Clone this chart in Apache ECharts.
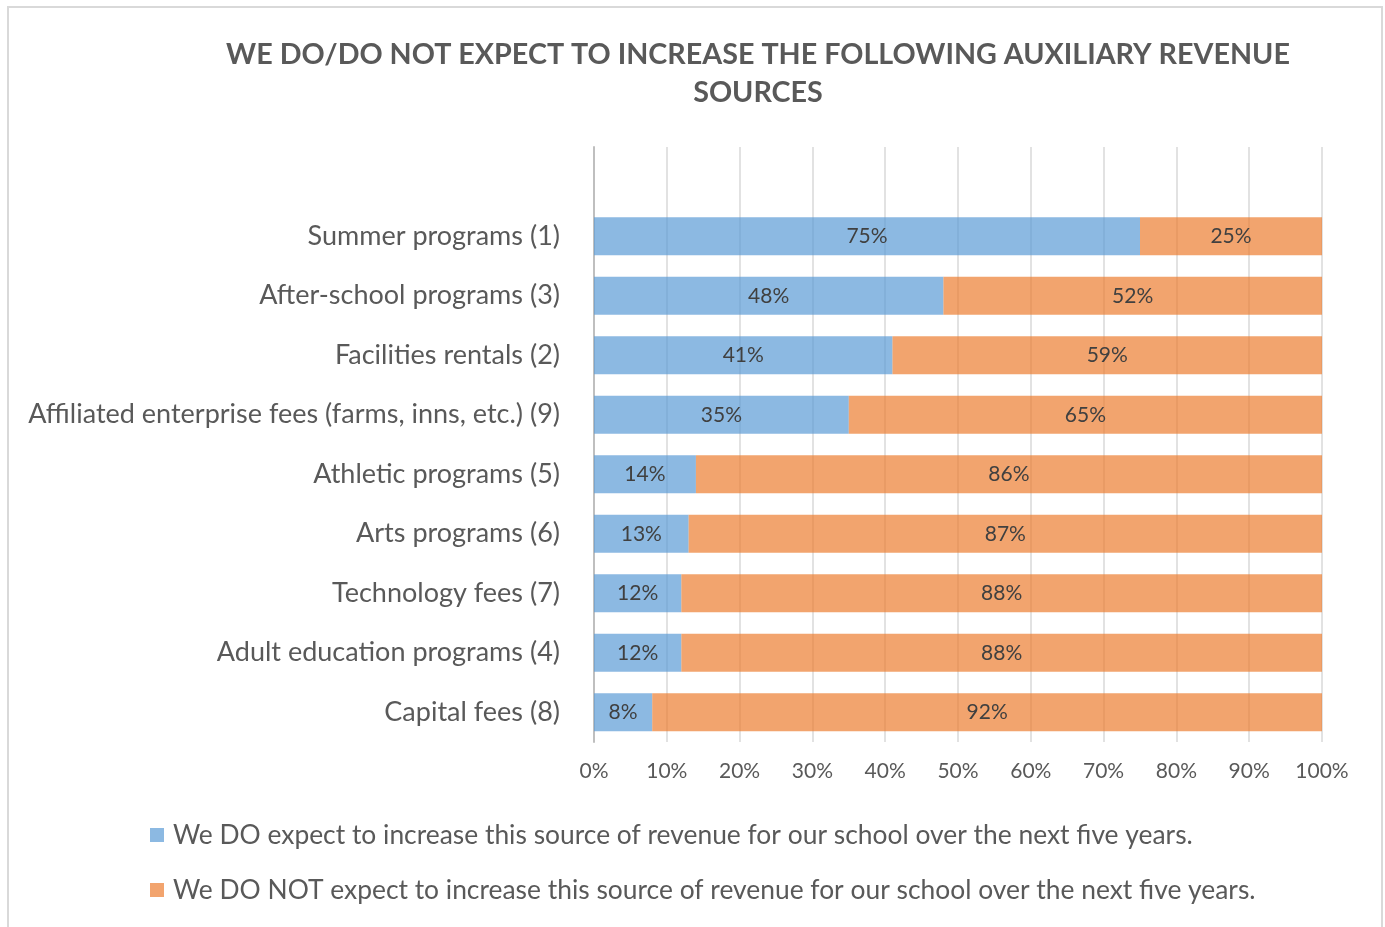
<!DOCTYPE html>
<html>
<head>
<meta charset="utf-8">
<script src="https://cdn.jsdelivr.net/npm/echarts@6/dist/echarts.min.js"></script>
<style>
  html, body { margin: 0; padding: 0; background: #ffffff; }
  #chart { width: 1385px; height: 927px; }
</style>
</head>
<body>
<div id="chart"></div>
<script>
// Survey categories, listed top to bottom
const categories = [
  'Summer programs (1)',
  'After-school programs (3)',
  'Facilities rentals (2)',
  'Affiliated enterprise fees (farms, inns, etc.) (9)',
  'Athletic programs (5)',
  'Arts programs (6)',
  'Technology fees (7)',
  'Adult education programs (4)',
  'Capital fees (8)'
];
// Share of schools (percent) in each answer group
const doExpect    = [75, 48, 41, 35, 14, 13, 12, 12, 8];
const doNotExpect = [25, 52, 59, 65, 86, 87, 88, 88, 92];
const xTicks = [0, 10, 20, 30, 40, 50, 60, 70, 80, 90, 100];

const seriesNames = [
  'We DO expect to increase this source of revenue for our school over the next five years.',
  'We DO NOT expect to increase this source of revenue for our school over the next five years.'
];
const titleText = 'WE DO/DO NOT EXPECT TO INCREASE THE FOLLOWING AUXILIARY REVENUE\nSOURCES';

// an empty row above the first bar leaves the blank band at the top of the plot
const yCats = [''].concat(categories);
const doData = [null].concat(doExpect);
const notData = [null].concat(doNotExpect);

const FONT = 'Lato';
const TEXT = '#595959';
const LABEL = '#404040';

const chart = echarts.init(document.getElementById('chart'), null, { renderer: 'canvas' });
chart.setOption({
  backgroundColor: '#ffffff',
  animation: false,
  textStyle: { fontFamily: FONT },
  graphic: [{
    type: 'rect',
    shape: { x: 8, y: 7, width: 1374, height: 940 },
    style: { fill: 'none', stroke: '#d9d9d9', lineWidth: 2 },
    silent: true
  }],
  title: {
    text: titleText,
    left: 753,
    top: 31,
    textAlign: 'center',
    textStyle: {
      fontFamily: FONT, fontSize: 28.7, fontWeight: 'bold', color: TEXT, lineHeight: 38
    }
  },
  legend: {
    orient: 'vertical',
    left: 145,
    top: 817,
    itemWidth: 14,
    itemHeight: 14,
    itemGap: 29,
    icon: 'rect',
    textStyle: { fontFamily: FONT, fontSize: 26.4, lineHeight: 26, color: TEXT, padding: [0, 0, 0, 4] },
    data: seriesNames
  },
  grid: { left: 594, right: 63, top: 147, bottom: 185, containLabel: false },
  xAxis: {
    type: 'value',
    min: xTicks[0],
    max: xTicks[xTicks.length - 1],
    interval: xTicks[1] - xTicks[0],
    axisLine: { show: false },
    axisTick: { show: false },
    axisLabel: { formatter: '{value}%', color: TEXT, fontFamily: FONT, fontSize: 21, margin: 19 },
    splitLine: { show: true, lineStyle: { color: '#d9d9d9', width: 1.5 } }
  },
  yAxis: {
    type: 'category',
    inverse: true,
    data: yCats,
    axisLine: { show: true, lineStyle: { color: '#bfbfbf', width: 2 } },
    axisTick: { show: false },
    axisLabel: { color: TEXT, fontFamily: FONT, fontSize: 27, margin: 34 }
  },
  series: [
    {
      name: seriesNames[0],
      type: 'bar',
      stack: 'total',
      data: doData,
      barCategoryGap: '36%',
      itemStyle: { color: 'rgba(91,155,213,0.7)' },
      label: { show: true, position: 'inside', formatter: '{c}%', color: LABEL, fontFamily: FONT, fontSize: 21 }
    },
    {
      name: seriesNames[1],
      type: 'bar',
      stack: 'total',
      data: notData,
      barCategoryGap: '36%',
      itemStyle: { color: 'rgba(237,125,49,0.7)' },
      label: { show: true, position: 'inside', formatter: '{c}%', color: LABEL, fontFamily: FONT, fontSize: 21 }
    }
  ]
});
</script>
</body>
</html>
